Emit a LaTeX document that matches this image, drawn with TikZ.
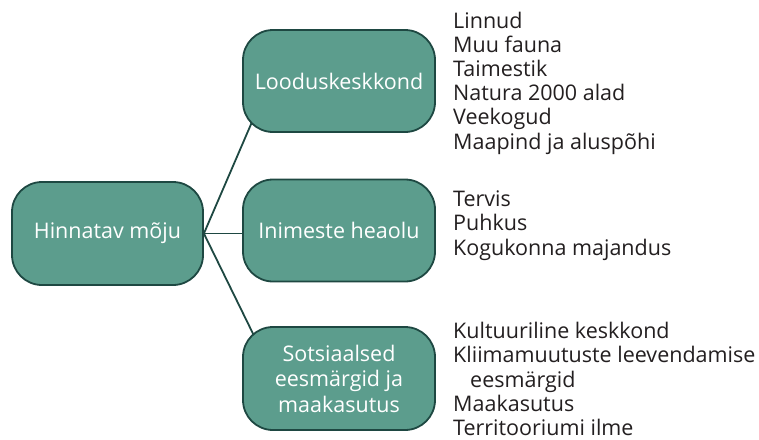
\documentclass[tikz,border=0pt]{standalone}
\usepackage{fontspec}
\setmainfont{Open Sans}
\usetikzlibrary{backgrounds}
\definecolor{boxfill}{HTML}{5C9D8D}
\definecolor{boxline}{HTML}{1E4842}
\definecolor{listtext}{HTML}{231F20}
\tikzset{
  topic/.style={draw=boxline, line width=1.8pt, fill=boxfill, rounded corners=30pt,
    text=white, align=center, minimum width=192pt, minimum height=103pt,
    inner sep=0pt, font=\fontsize{21.5}{25.5}\selectfont},
  % lists are placed by the baseline of their last line
  itemlist/.style={anchor=base west, align=left, inner sep=0pt, text=listtext,
    font=\fontsize{21.5}{24.2}\selectfont},
  link/.style={draw=boxline, line width=1.8pt}
}
\begin{document}
\begin{tikzpicture}[x=1pt, y=-1pt]
\useasboundingbox (0,0) rectangle (759,439);

\node[topic, minimum width=191pt] (root) at (107.5,233.5) {Hinnatav mõju};
\node[topic, minimum height=102pt] (nature) at (339,81) {Looduskeskkond};
\node[topic, minimum height=102pt] (people) at (339,230.5) {Inimeste heaolu};
\node[topic] (social) at (339,378.5) {Sotsiaalsed\\eesmärgid ja\\maakasutus};

\coordinate (natureIn) at (258,108);
\coordinate (socialIn) at (262,352);

\begin{scope}[on background layer]
  \draw[link] (root.east) -- (natureIn);
  \draw[link] (root.east) -- (root.east -| people.west);
  \draw[link] (root.east) -- (socialIn);
\end{scope}

\node[itemlist] (natureItems) at (453,149) {Linnud\\Muu fauna\\Taimestik\\Natura 2000 alad\\Veekogud\\Maapind ja aluspõhi};
\node[itemlist] (peopleItems) at (453,255) {Tervis\\Puhkus\\Kogukonna majandus};
\node[itemlist] (socialItems) at (453,435.5) {Kultuuriline keskkond\\Kliimamuutuste leevendamise\\\hspace*{17pt}eesmärgid\\Maakasutus\\Territooriumi ilme};
\end{tikzpicture}
\end{document}
